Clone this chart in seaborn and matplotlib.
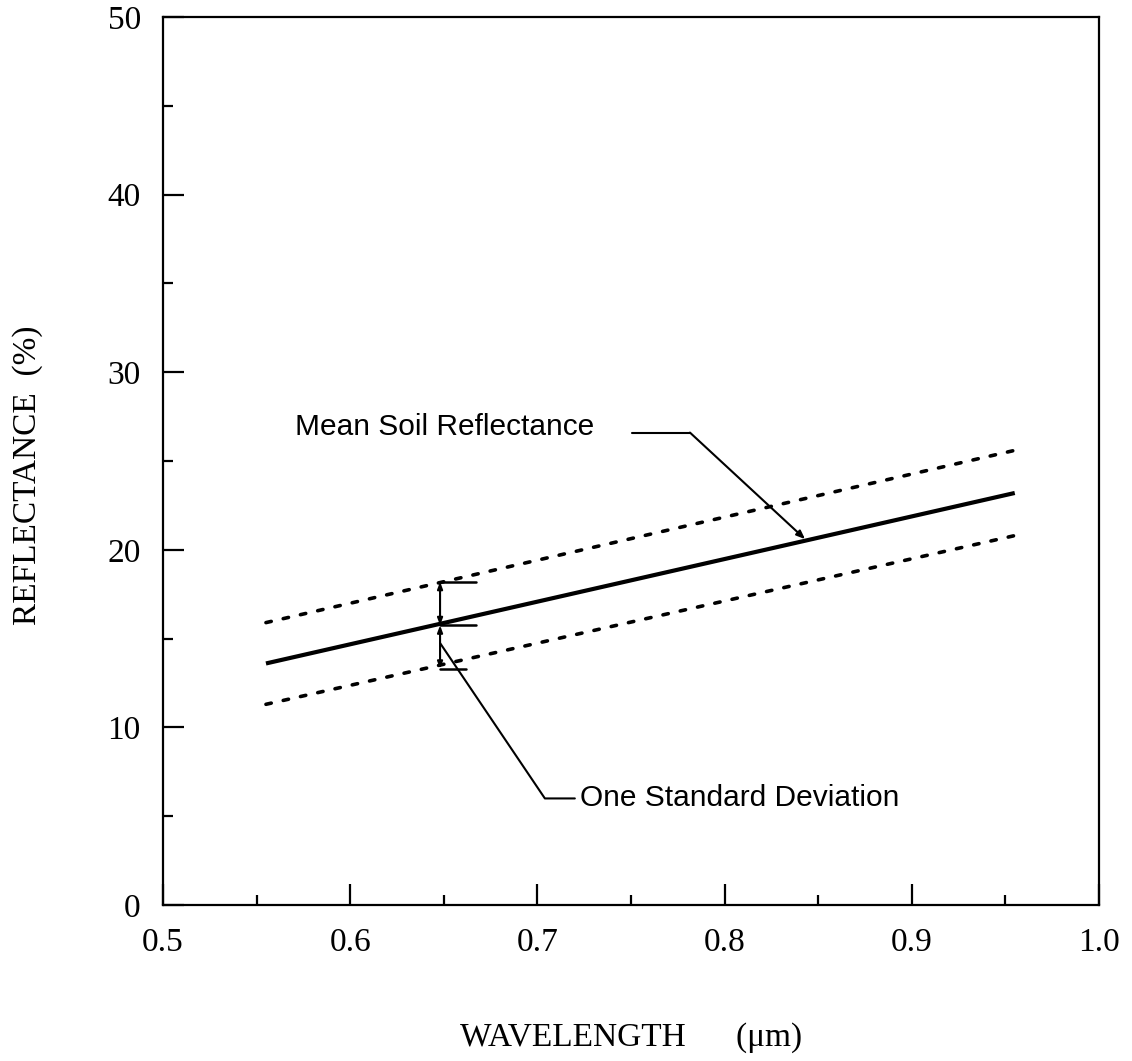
import matplotlib
matplotlib.use("Agg")
import matplotlib.pyplot as plt
import seaborn as sns
import pandas as pd
from matplotlib.ticker import MultipleLocator

# ---- data ----
wavelength = [0.555, 0.955]
mean_refl = [13.6, 23.2]
upper_refl = [15.9, 25.6]
lower_refl = [11.3, 20.8]

x_ticks = [0.5, 0.6, 0.7, 0.8, 0.9, 1.0]
x_tick_labels = ["0.5", "0.6", "0.7", "0.8", "0.9", "1.0"]
y_ticks = [0, 10, 20, 30, 40, 50]
y_tick_labels = ["0", "10", "20", "30", "40", "50"]

# annotation values
sd_x = 0.648
sd_top, sd_mid, sd_bot = 18.2, 15.75, 13.3
mean_arrow_x, mean_arrow_y = 0.843, 20.6

sns.set_style("ticks")
plt.rcParams["font.family"] = ["Liberation Serif", "DejaVu Serif"]
for k in ["text.color", "axes.labelcolor", "xtick.color", "ytick.color",
          "axes.edgecolor"]:
    plt.rcParams[k] = "black"

fig = plt.figure(figsize=(11.32, 10.61), dpi=100)
ax = fig.add_axes([163/1132, 1 - 905/1061, (1099-163)/1132, (905-17)/1061])

df = pd.DataFrame({"wavelength": wavelength, "mean": mean_refl,
                   "upper": upper_refl, "lower": lower_refl})

sns.lineplot(data=df, x="wavelength", y="mean", ax=ax, color="black", lw=3.0,
             solid_capstyle="butt")
for col in ["upper", "lower"]:
    sns.lineplot(data=df, x="wavelength", y=col, ax=ax, color="black", lw=2.6,
                 linestyle=(0, (1.5, 3.4)), dash_capstyle="round")

ax.set_xlim(0.5, 1.0)
ax.set_ylim(0, 50)
ax.set_xticks(x_ticks)
ax.set_xticklabels(x_tick_labels)
ax.set_yticks(y_ticks)
ax.set_yticklabels(y_tick_labels)
ax.xaxis.set_minor_locator(MultipleLocator(0.05))
ax.yaxis.set_minor_locator(MultipleLocator(5))
ax.tick_params(which="major", direction="in", length=15, width=1.6,
               labelsize=24, pad=16, top=False, right=False)
ax.tick_params(which="minor", direction="in", length=7.5, width=1.6,
               top=False, right=False)
for s in ax.spines.values():
    s.set_linewidth(1.6)
    s.set_visible(True)
    s.set_color("black")

ax.set_xlabel("WAVELENGTH      (\u03bcm)", fontsize=24, va="center")
ax.set_ylabel("REFLECTANCE  (%)", fontsize=24, va="center")
ax.xaxis.set_label_coords(0.5, -0.149)
ax.yaxis.set_label_coords(-0.145, 0.484)

sans = ["Liberation Sans", "DejaVu Sans"]

# Mean Soil Reflectance annotation
ax.text(0.7305, 26.9, "Mean Soil Reflectance", family=sans, fontsize=21.5,
        ha="right", va="center", color="black")
ax.plot([0.7505, 0.7815], [26.6, 26.6], color="black", lw=1.5)
ax.annotate("", xy=(mean_arrow_x, mean_arrow_y), xytext=(0.7815, 26.6),
            arrowprops=dict(arrowstyle="-|>,head_length=0.5,head_width=0.2",
                            color="black", lw=1.5, shrinkA=0, shrinkB=0))

# One standard deviation bracket
ax.annotate("", xy=(sd_x, sd_top), xytext=(sd_x, sd_mid),
            arrowprops=dict(arrowstyle="<|-|>,head_length=0.4,head_width=0.15",
                            color="black", lw=1.5, shrinkA=0, shrinkB=0))
ax.annotate("", xy=(sd_x, sd_bot), xytext=(sd_x, sd_mid),
            arrowprops=dict(arrowstyle="<|-|>,head_length=0.4,head_width=0.15",
                            color="black", lw=1.5, shrinkA=0, shrinkB=0))
ax.plot([sd_x, 0.667], [sd_top, sd_top], color="black", lw=1.8)
ax.plot([sd_x, 0.667], [sd_mid, sd_mid], color="black", lw=1.8)
ax.plot([sd_x, 0.662], [sd_bot, sd_bot], color="black", lw=1.8)

ax.plot([sd_x, 0.704, 0.72], [14.75, 6.0, 6.0], color="black", lw=1.5)
ax.text(0.7228, 6.0, "One Standard Deviation", family=sans, fontsize=21.5,
        ha="left", va="center", color="black")

fig.savefig("out.png", dpi=100, facecolor="white")
